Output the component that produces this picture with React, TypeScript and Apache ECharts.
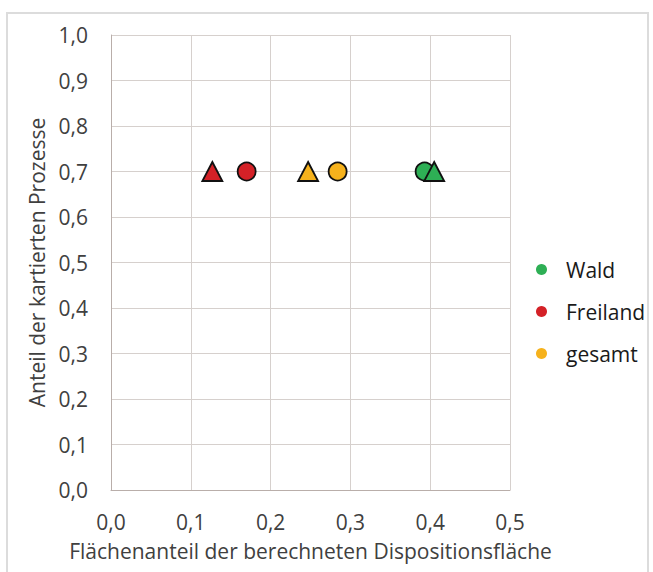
import React, { useEffect, useRef } from "react";
import * as echarts from "echarts";

const seriesNames = ["Wald", "Freiland", "gesamt"];
const colors = ["#2eaf55", "#d42127", "#f6b21c"];
// [x, y] for circle point and triangle point of each series
const circlePoints = [[0.393, 0.7], [0.17, 0.7], [0.284, 0.7]];
const trianglePoints = [[0.405, 0.7], [0.127, 0.7], [0.247, 0.7]];
const xTicks = [0, 0.1, 0.2, 0.3, 0.4, 0.5];
const yTicks = [0, 0.1, 0.2, 0.3, 0.4, 0.5, 0.6, 0.7, 0.8, 0.9, 1.0];

export default function App() {
  const ref = useRef<HTMLDivElement>(null);
  useEffect(() => {
    const chart = echarts.init(ref.current!, null, { renderer: "svg" });
    const font = "'Open Sans', 'Liberation Sans', sans-serif";
    const fmt = (v: number) => v.toFixed(1).replace(".", ",");
    chart.setOption({
      animation: false,
      backgroundColor: "#ffffff",
      textStyle: { fontFamily: font },
      graphic: [
        {
          type: "rect",
          shape: { x: 7, y: 13, width: 641, height: 580 },
          style: { fill: "none", stroke: "#dcdcdc", lineWidth: 2 },
          silent: true,
        },
      ],
      grid: { left: 111, top: 35, width: 399, height: 455, containLabel: false },
      legend: {
        orient: "vertical",
        left: 531,
        top: 254,
        icon: "circle",
        itemWidth: 11,
        itemHeight: 11,
        itemGap: 21,
        data: seriesNames,
        itemStyle: { borderWidth: 0 },
        textStyle: { fontSize: 21, color: "#1a1a1a", fontFamily: font, padding: [0, 0, 0, 14] },
      },
      xAxis: {
        type: "value",
        min: xTicks[0],
        max: xTicks[xTicks.length - 1],
        interval: 0.1,
        axisLine: { show: true, lineStyle: { color: "#b9aeaa", width: 1 } },
        axisTick: { show: false },
        splitLine: { show: true, lineStyle: { color: "#d6d0cd", width: 1 } },
        axisLabel: { formatter: fmt, fontSize: 21, color: "#404040", margin: 21 },
        name: "Flächenanteil der berechneten Dispositionsfläche",
        nameLocation: "middle",
        nameGap: 50,
        nameTextStyle: { fontSize: 21, color: "#404040" },
      },
      yAxis: {
        type: "value",
        min: yTicks[0],
        max: yTicks[yTicks.length - 1],
        interval: 0.1,
        axisLine: { show: true, lineStyle: { color: "#b9aeaa", width: 1 } },
        axisTick: { show: false },
        splitLine: { show: true, lineStyle: { color: "#d6d0cd", width: 1 } },
        axisLabel: { formatter: fmt, fontSize: 21, color: "#404040", margin: 23 },
        name: "Anteil der kartierten Prozesse",
        nameLocation: "middle",
        nameGap: 63,
        nameTextStyle: { fontSize: 21, color: "#404040" },
      },
      series: seriesNames.map((name, i) => ({
        name,
        type: "scatter",
        itemStyle: { color: colors[i], borderColor: "#111111", borderWidth: 1.8, opacity: 1 },
        data: [
          { value: circlePoints[i], symbol: "circle", symbolSize: 18 },
          { value: trianglePoints[i], symbol: "triangle", symbolSize: [20, 19] },
        ],
      })),
    });
    return () => chart.dispose();
  }, []);
  return <div ref={ref} style={{ width: 653, height: 572, position: "absolute", left: 0, top: 0 }} />;
}
